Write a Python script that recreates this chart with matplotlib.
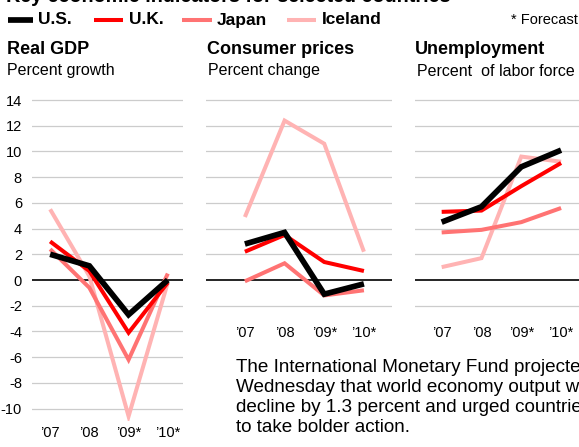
import numpy as np
import matplotlib.pyplot as plt
from matplotlib.lines import Line2D

plt.rcParams['font.family'] = ['Liberation Sans', 'DejaVu Sans']

years = ["\u201907", "\u201908", "\u201909*", "\u201910*"]
countries = ["U.S.", "U.K.", "Japan", "Iceland"]
colors = ["#000000", "#ff0000", "#ff7373", "#ffb3b3"]
widths = [4.1, 2.9, 2.9, 2.9]

gdp = {
    "U.S.": [2.0, 1.1, -2.7, 0.0],
    "U.K.": [3.0, 0.7, -4.1, -0.2],
    "Japan": [2.4, -0.6, -6.2, 0.5],
    "Iceland": [5.5, 0.3, -10.6, -0.2],
}
cpi = {
    "U.S.": [2.8, 3.7, -1.1, -0.3],
    "U.K.": [2.2, 3.5, 1.4, 0.7],
    "Japan": [-0.1, 1.3, -1.2, -0.8],
    "Iceland": [4.9, 12.4, 10.6, 2.2],
}
unemp = {
    "U.S.": [4.5, 5.7, 8.8, 10.1],
    "U.K.": [5.3, 5.4, 7.3, 9.1],
    "Japan": [3.7, 3.9, 4.5, 5.6],
    "Iceland": [1.0, 1.7, 9.6, 9.2],
}

W, H = 579, 447
fig = plt.figure(figsize=(W / 100, H / 100), dpi=100)


def px_axes(x0, x1, y0, y1):
    # pixel box (top-left origin) -> figure axes
    return fig.add_axes([x0 / W, 1 - y1 / H, (x1 - x0) / W, (y1 - y0) / H])


unit = 180 / 14.0  # px per percent


def panel(x0, x1, ybot, xlim, data, gridticks, labels_left):
    top = 280 - 14.5 * unit
    bot = 280 - ybot * unit
    ax = px_axes(x0, x1, top, bot)
    ax.set_xlim(*xlim)
    ax.set_ylim(ybot, 14.5)
    for g in gridticks:
        if g == 0:
            ax.axhline(0, color="black", lw=1.2, zorder=1)
        else:
            ax.axhline(g, color="#cccccc", lw=0.9, zorder=0)
    x = np.arange(len(years))
    for c, col, lw in zip(countries[::-1], colors[::-1], widths[::-1]):
        ax.plot(x, data[c], color=col, lw=lw, solid_joinstyle="miter",
                solid_capstyle="butt", zorder=3)
    for s in ax.spines.values():
        s.set_visible(False)
    ax.set_xticks(x)
    ax.set_xticklabels(years, fontsize=10.5)
    ax.tick_params(axis="x", length=0, pad=3.5)
    if labels_left:
        ax.set_yticks(gridticks)
        ax.set_yticklabels([str(t) for t in gridticks], fontsize=10.5)
        ax.tick_params(axis="y", length=0, pad=7)
    else:
        ax.set_yticks([])
    ax.patch.set_alpha(0)
    return ax


panel(31.7, 182.7, -11, (-0.47, 3.38), gdp, list(range(-10, 15, 2)), True)
panel(206, 391.7, -3.2, (-0.98, 3.70), cpi, list(range(-2, 15, 2)), False)
panel(415, 579, -3.2, (-0.67, 3.45), unemp, list(range(-2, 15, 2)), False)


def ftext(x, y, s, **kw):
    fig.text(x / W, 1 - y / H, s, **kw)


ftext(6, 1.5, "Key economic indicators for selected countries",
      fontsize=14.2, fontweight="bold", va="baseline")

# legend
leg_lines = [(8, 33), (94, 123), (182, 212), (287, 316)]
leg_text_x = [38, 129, 217, 322]
for (a, b), tx, c, col, lw in zip(leg_lines, leg_text_x, countries, colors, widths):
    fig.add_artist(Line2D([a / W, b / W], [1 - 19.5 / H] * 2, color=col,
                          lw=lw, solid_capstyle="butt"))
    ftext(tx, 20, c, fontsize=12.5, fontweight="bold", va="center")
ftext(578, 20.5, "* Forecast", fontsize=10.5, va="center", ha="right")

# panel titles
ftext(7, 50, "Real GDP", fontsize=13, fontweight="bold", va="center")
ftext(7, 71, "Percent growth", fontsize=11.5, va="center")
ftext(207, 50, "Consumer prices", fontsize=13, fontweight="bold", va="center")
ftext(208, 71, "Percent change", fontsize=11.5, va="center")
ftext(415, 50, "Unemployment", fontsize=13, fontweight="bold", va="center")
ftext(417, 71, "Percent  of labor force", fontsize=11.5, va="center")

body = ["The International Monetary Fund projected",
        "Wednesday that world economy output will",
        "decline by 1.3 percent and urged countries",
        "to take bolder action."]
for i, line in enumerate(body):
    ftext(236, 368 + i * 19.7, line, fontsize=13.6, va="center")

fig.savefig("out.png", dpi=100)
